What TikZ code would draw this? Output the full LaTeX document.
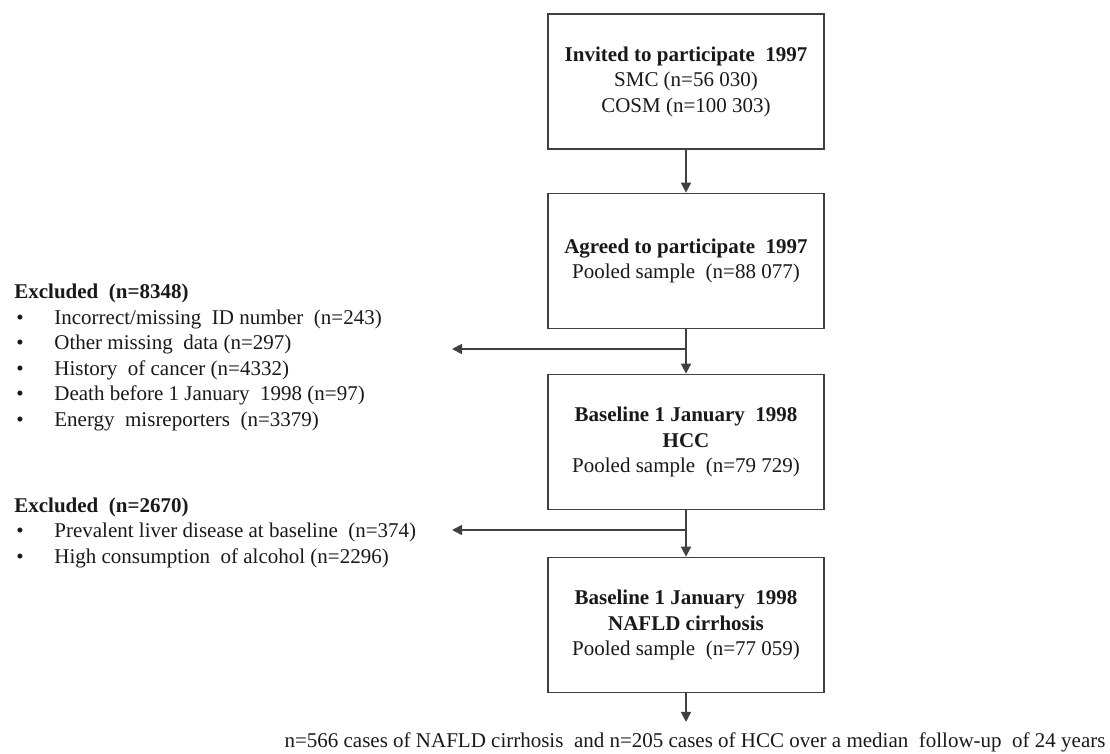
\documentclass[tikz,border=0pt]{standalone}
\usepackage{fontspec}
\setmainfont{Liberation Serif}
\usetikzlibrary{positioning,calc,arrows.meta}
\newcommand{\listdot}{\makebox[20pt][l]{\hspace{1pt}•}}

\begin{document}
\begin{tikzpicture}[x=0.5pt, y=-0.5pt,
    txt/.style={font=\fontsize{10.5}{12.75}\selectfont, text=black!90},
    stagebox/.style={txt, draw=black!75, line width=0.85pt, minimum width=138pt, minimum height=67.5pt, align=center, inner sep=0pt},
    flowarrow/.style={draw=black!75, line width=0.8pt, -{Triangle[width=5pt,length=5pt]}}]
    \useasboundingbox (0,0) rectangle (1110,754);
    % flow boxes
    \node[stagebox] (invited) at (686,81.5) {\textbf{Invited to participate\ \ 1997}\\SMC (n=56 030)\\COSM (n=100 303)};
    \node[stagebox] (agreed) at (686,261) {\textbf{Agreed to participate\ \ 1997}\\Pooled sample\ \ (n=88 077)};
    \node[stagebox] (hcc) at (686,442) {\textbf{Baseline 1 January\ \ 1998}\\\textbf{HCC}\\Pooled sample\ \ (n=79 729)};
    \node[stagebox] (nafld) at (686,625) {\textbf{Baseline 1 January\ \ 1998}\\\textbf{NAFLD cirrhosis}\\Pooled sample\ \ (n=77 059)};
    % exclusions
    \node[txt, align=left, anchor=west, inner sep=0pt] (excl1) at (14,357.5) {\textbf{Excluded\ \ (n=8348)}\\
        \listdot Incorrect/missing\ \ ID number\ \ (n=243)\\
        \listdot Other missing\ \ data (n=297)\\
        \listdot History\ \ of cancer (n=4332)\\
        \listdot Death before 1 January\ \ 1998 (n=97)\\
        \listdot Energy\ \ misreporters\ \ (n=3379)};
    \node[txt, align=left, anchor=west, inner sep=0pt] (excl2) at (14,532.5) {\textbf{Excluded\ \ (n=2670)}\\
        \listdot Prevalent liver disease at baseline\ \ (n=374)\\
        \listdot High consumption\ \ of alcohol (n=2296)};
    \node[txt, inner xsep=0pt, inner ysep=5pt] (outcome) at (695,742) {n=566 cases of NAFLD cirrhosis\ \ and n=205 cases of HCC over a median\ \ follow-up\ \ of 24 years};
    % connectors
    \coordinate (split1) at (686,349);
    \coordinate (tip1) at (452,349);
    \coordinate (split2) at (686,530);
    \coordinate (tip2) at (452,530);
    \draw[flowarrow] (invited) -- (agreed);
    \draw[flowarrow] (agreed) -- (hcc);
    \draw[flowarrow] (hcc) -- (nafld);
    \draw[flowarrow] (split1) -- (tip1);
    \draw[flowarrow] (split2) -- (tip2);
    \draw[flowarrow] (nafld) -- (nafld.south |- outcome.north);
\end{tikzpicture}
\end{document}
